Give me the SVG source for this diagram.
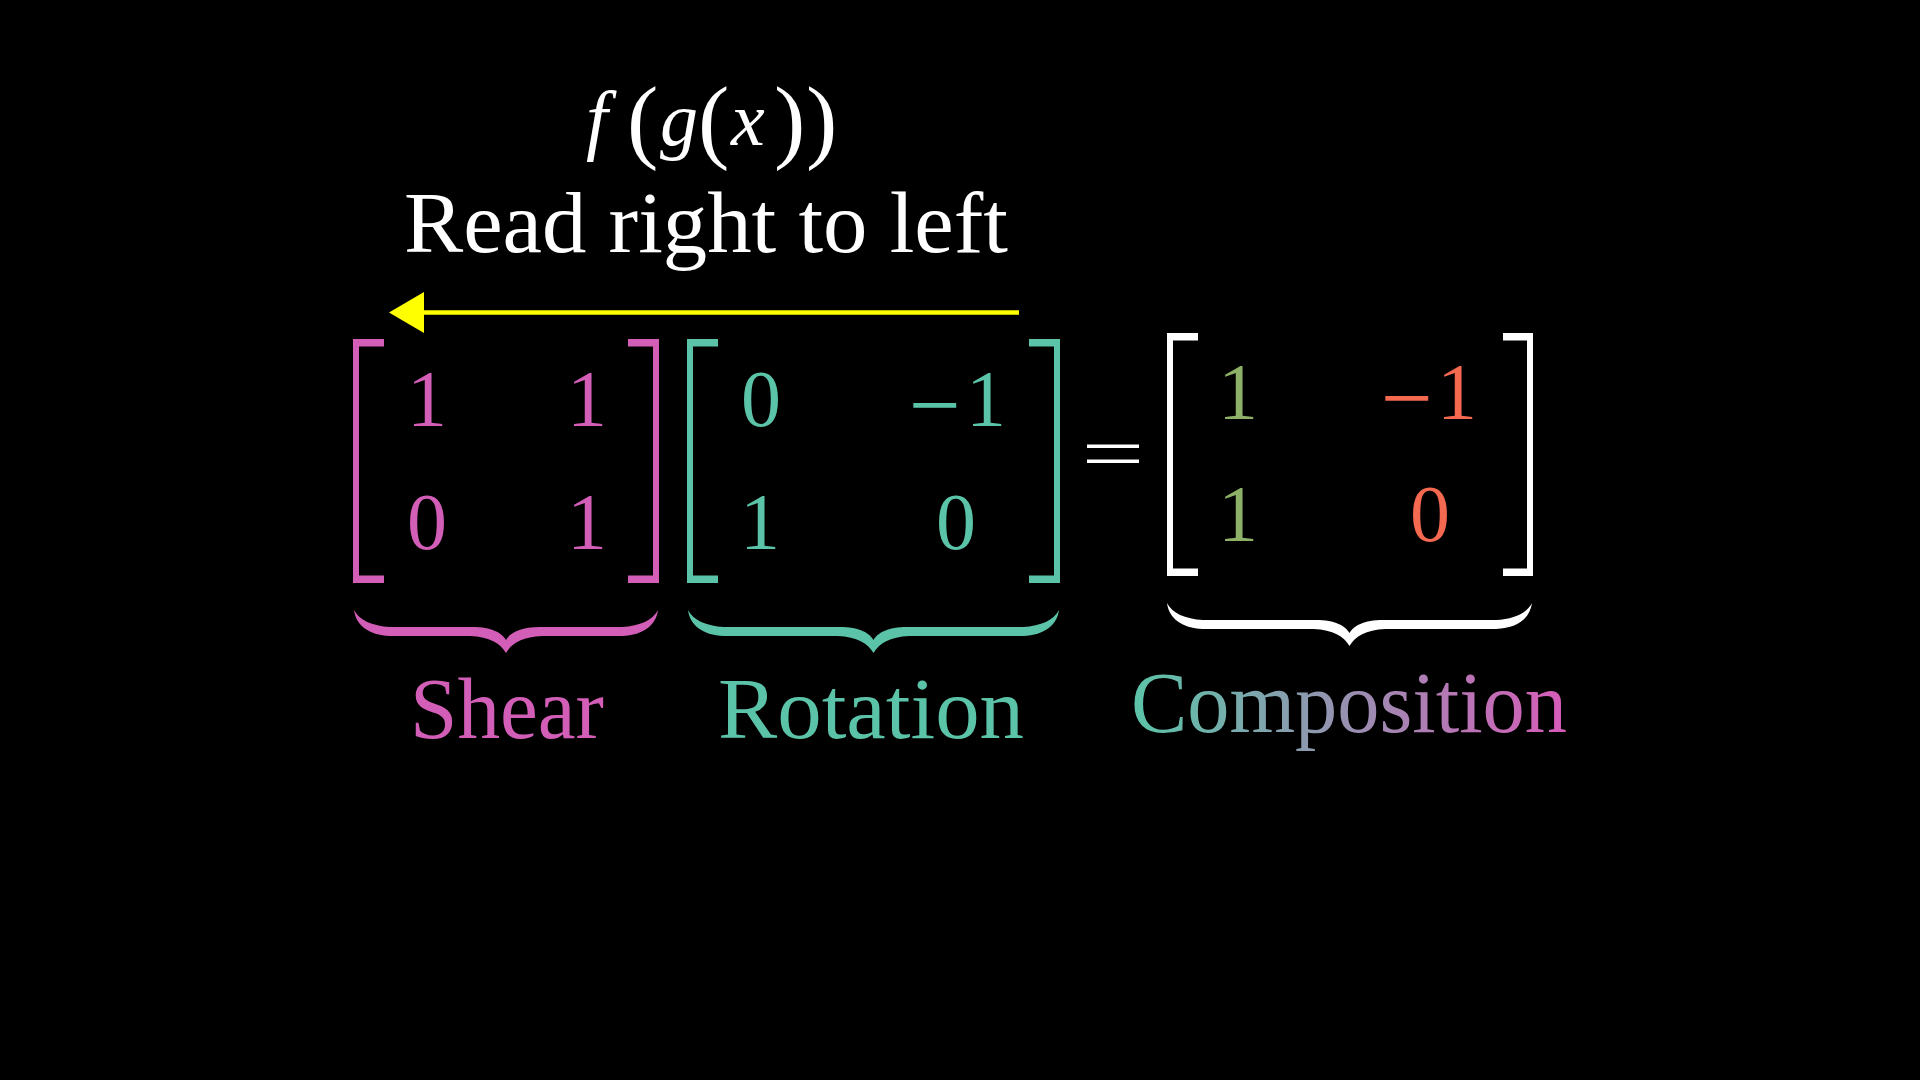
<svg xmlns="http://www.w3.org/2000/svg" width="1920" height="1080" viewBox="0 0 1920 1080">
  <defs>
    <style>
      .serif { font-family: "Liberation Serif", "DejaVu Serif", serif; }
      .ital { font-family: "Liberation Serif", "DejaVu Serif", serif; font-style: italic; }
      .num { font-family: "Liberation Serif", "DejaVu Serif", serif; font-size: 80px; text-anchor: middle; }
      .numl { font-family: "Liberation Serif", "DejaVu Serif", serif; font-size: 80px; }
      .label { font-family: "Liberation Serif", "DejaVu Serif", serif; font-size: 86px; }
      .pink { fill: #D35EB8; }
      .teal { fill: #5BC4A8; }
      .white { fill: #FFFFFF; }
      .green { fill: #8DB166; }
      .red { fill: #F4694F; }
    </style>
    <linearGradient id="compGrad" gradientUnits="userSpaceOnUse" x1="1133" y1="0" x2="1565" y2="0">
      <stop offset="0" stop-color="#5BC4A8"/>
      <stop offset="1" stop-color="#D65CB9"/>
    </linearGradient>
  </defs>

  <rect x="0" y="0" width="1920" height="1080" fill="#000000"/>

  <g id="title">
    <text class="white" y="145">
      <tspan class="ital" x="586" font-size="78">f</tspan>
      <tspan class="serif" x="627" y="151" font-size="94">(</tspan>
      <tspan class="ital" x="660" y="145" font-size="76">g</tspan>
      <tspan class="serif" x="698" y="151" font-size="94">(</tspan>
      <tspan class="ital" x="731" y="145" font-size="76">x</tspan>
      <tspan class="serif" x="774" y="151" font-size="94">)</tspan>
      <tspan class="serif" x="806" y="151" font-size="94">)</tspan>
    </text>
  </g>

  <g id="subtitle">
    <text class="serif white" x="404" y="252" font-size="86" textLength="604" lengthAdjust="spacingAndGlyphs">Read right to left</text>
  </g>

  <g id="connectors">
    <line x1="1019" y1="312.5" x2="420" y2="312.5" stroke="#FFFF00" stroke-width="4.5"/>
    <polygon points="389,312.5 424,292 424,333" fill="#FFFF00"/>
  </g>

  <g id="shear-matrix">
    <path class="pink" d="M353 339 H384 V346.5 H359 V575.5 H384 V583 H353 Z"/>
    <path class="pink" d="M659 339 H628 V346.5 H653 V575.5 H628 V583 H659 Z"/>
    <text class="num pink" x="427" y="426">1</text>
    <text class="num pink" x="587" y="426">1</text>
    <text class="num pink" x="427" y="549">0</text>
    <text class="num pink" x="587" y="549">1</text>
  </g>

  <g id="rotation-matrix">
    <path class="teal" d="M687 339 H718 V346.5 H693 V575.5 H718 V583 H687 Z"/>
    <path class="teal" d="M1060 339 H1029 V346.5 H1054 V575.5 H1029 V583 H1060 Z"/>
    <text class="num teal" x="761" y="426">0</text>
    <text class="numl teal" x="909" y="426"><tspan font-size="92" dy="10">−</tspan><tspan dy="-10" dx="5">1</tspan></text>
    <text class="num teal" x="760" y="549">1</text>
    <text class="num teal" x="956" y="549">0</text>
  </g>

  <g id="equals">
    <rect class="white" x="1087" y="444.5" width="52" height="3.5"/>
    <rect class="white" x="1087" y="459.5" width="52" height="3.5"/>
  </g>

  <g id="composition-matrix">
    <path class="white" d="M1167 333 H1198 V340.5 H1173 V568.5 H1198 V576 H1167 Z"/>
    <path class="white" d="M1533 333 H1503 V340.5 H1527 V568.5 H1503 V576 H1533 Z"/>
    <text class="num green" x="1238" y="419">1</text>
    <text class="numl red" x="1381" y="419"><tspan font-size="92" dy="10">−</tspan><tspan dy="-10" dx="4">1</tspan></text>
    <text class="num green" x="1238" y="541">1</text>
    <text class="num red" x="1430" y="541">0</text>
  </g>

  <g id="shear-label">
    <path class="pink" d="M 354 610 C 356 625, 368 635, 390 636 L 470 636 C 490 637, 500 643, 506 653 C 512 643, 522 637, 542 636 L 622 636 C 644 635, 656 625, 658 610 C 653 620, 640 626, 622 627 L 540 627 C 520 627, 510 633, 506 640 C 502 633, 492 627, 472 627 L 390 627 C 372 626, 359 620, 354 610 Z"/>
    <text class="label pink" x="410" y="738" textLength="194" lengthAdjust="spacingAndGlyphs">Shear</text>
  </g>

  <g id="rotation-label">
    <path class="teal" d="M 688 610 C 690 625, 702 635, 724 636 L 837.5 636 C 857.5 637, 867.5 643, 873.5 653 C 879.5 643, 889.5 637, 909.5 636 L 1023 636 C 1045 635, 1057 625, 1059 610 C 1054 620, 1041 626, 1023 627 L 907.5 627 C 887.5 627, 877.5 633, 873.5 640 C 869.5 633, 859.5 627, 839.5 627 L 724 627 C 706 626, 693 620, 688 610 Z"/>
    <text class="label teal" x="718" y="738" textLength="306" lengthAdjust="spacingAndGlyphs">Rotation</text>
  </g>

  <g id="composition-label">
    <path class="white" d="M 1167 603 C 1169 618, 1181 628, 1203 629 L 1313.5 629 C 1333.5 630, 1343.5 636, 1349.5 646 C 1355.5 636, 1365.5 630, 1385.5 629 L 1496 629 C 1518 628, 1530 618, 1532 603 C 1527 613, 1514 619, 1496 620 L 1383.5 620 C 1363.5 620, 1353.5 626, 1349.5 633 C 1345.5 626, 1335.5 620, 1315.5 620 L 1203 620 C 1185 619, 1172 613, 1167 603 Z"/>
    <text class="label" fill="url(#compGrad)" x="1131" y="732" textLength="436" lengthAdjust="spacingAndGlyphs">Composition</text>
  </g>
</svg>
